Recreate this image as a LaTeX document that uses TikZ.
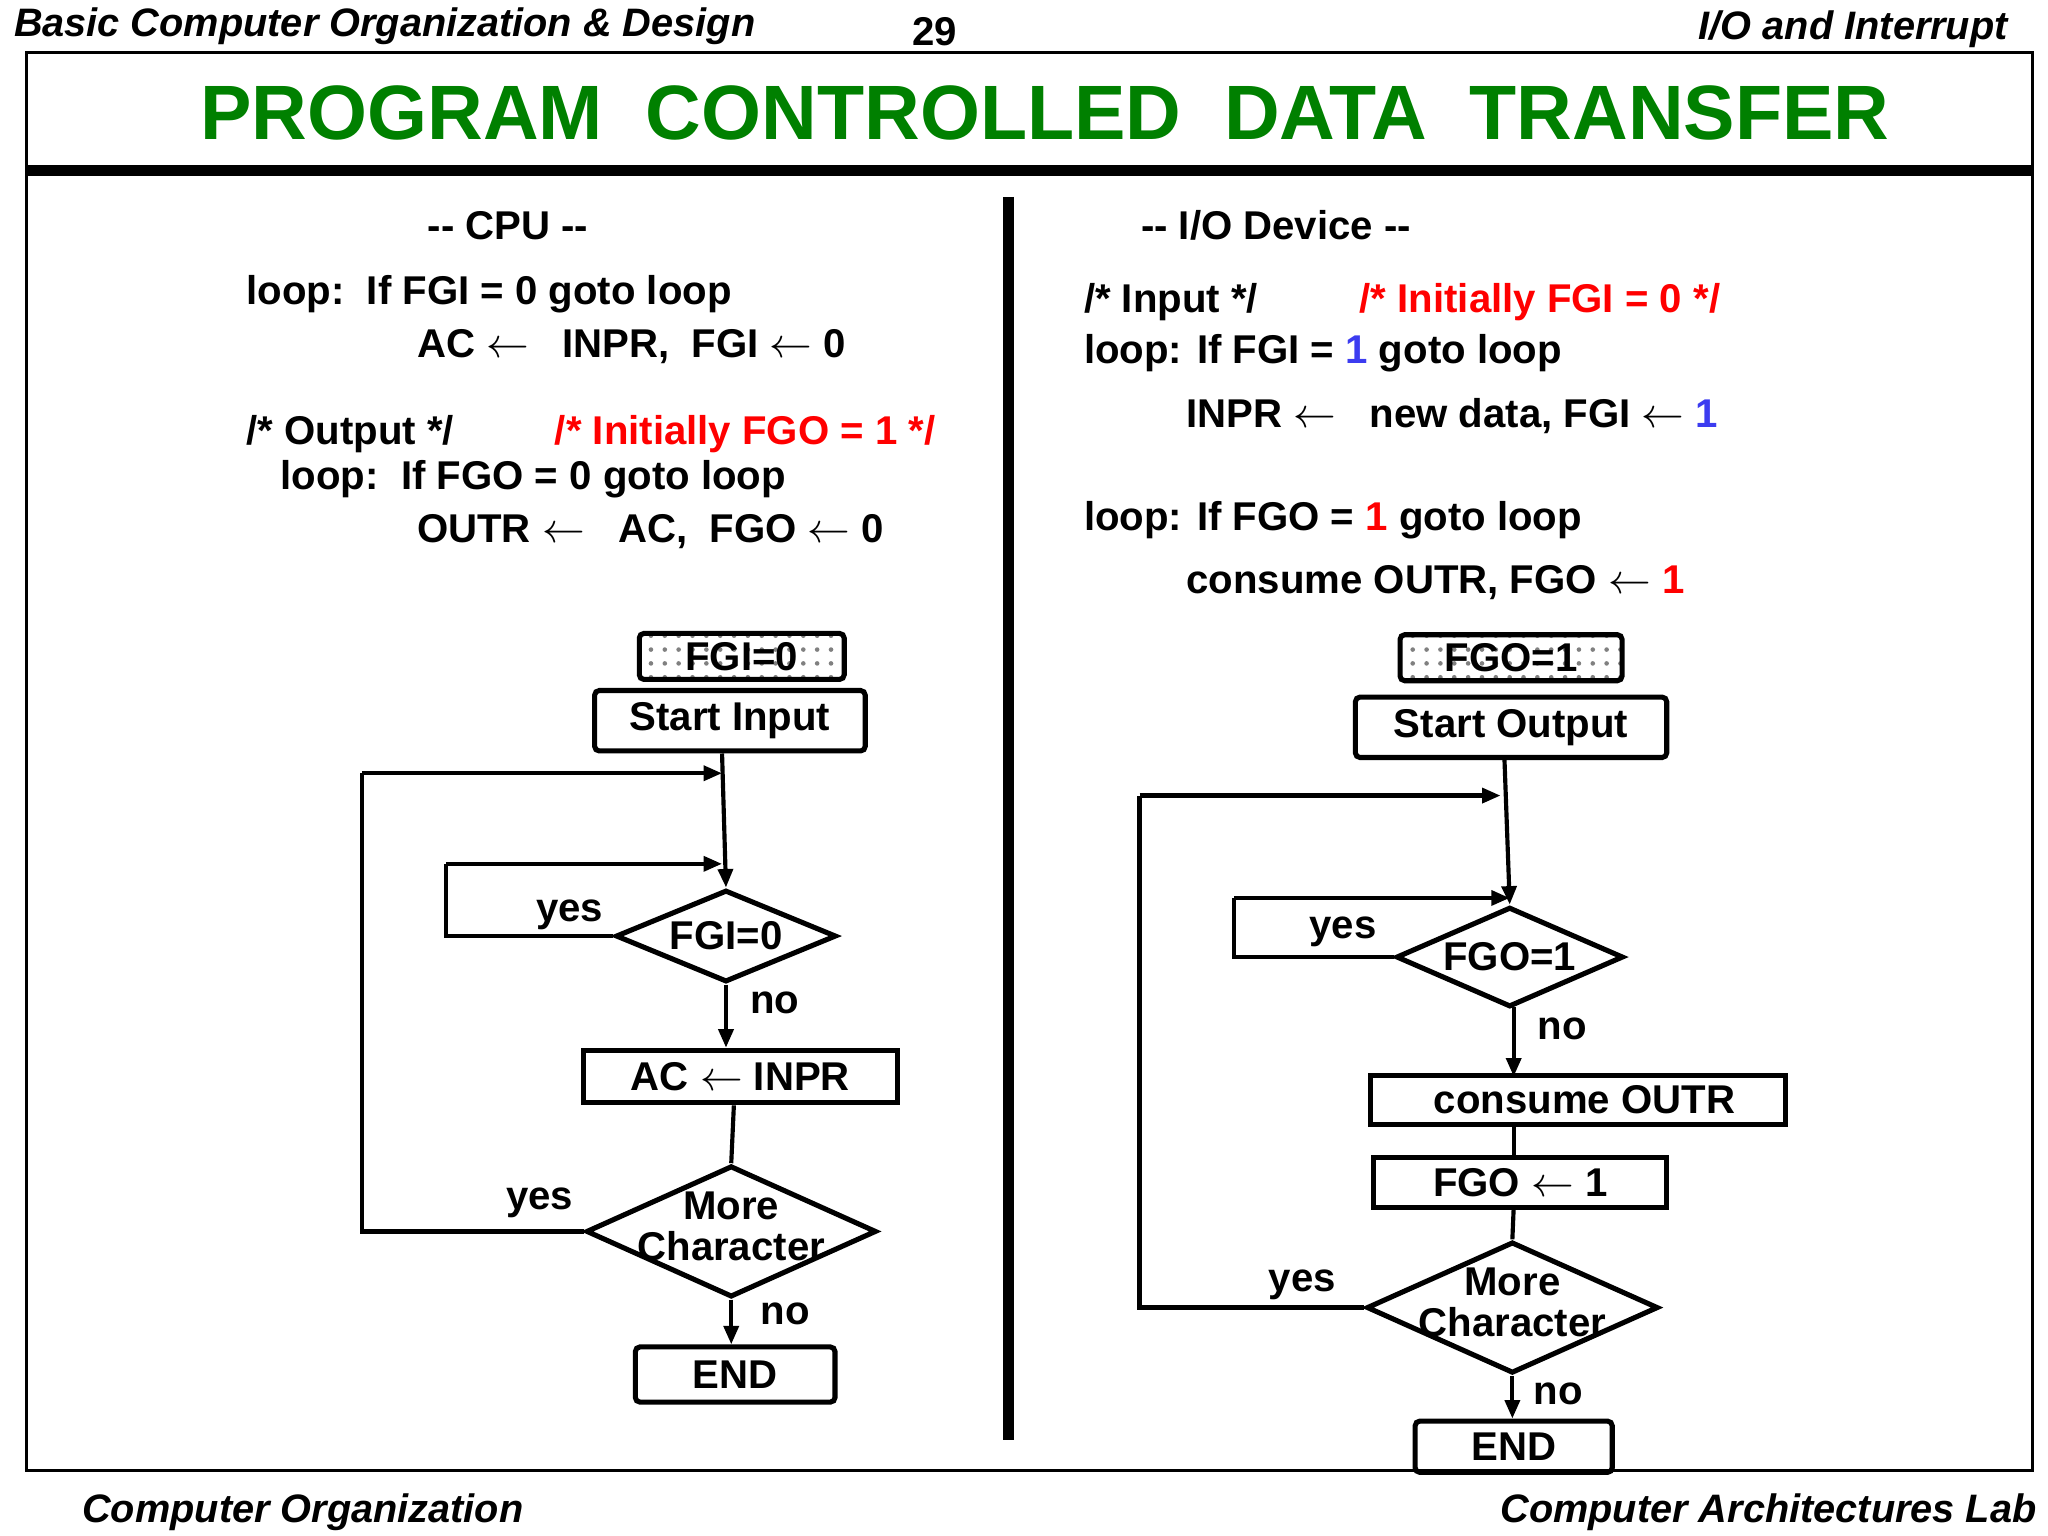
\documentclass[tikz,border=0pt]{standalone}
\usepackage{fontspec}
\setmainfont{Liberation Sans}
\usetikzlibrary{shapes.geometric,arrows.meta,patterns}
\definecolor{titlegreen}{RGB}{0,128,0}
\definecolor{myblue}{RGB}{60,60,240}
\newcommand{\la}{\ensuremath{\leftarrow}}
\begin{document}
\begin{tikzpicture}[x=0.01cm,y=-0.01cm,
  txt/.style={font=\bfseries\fontsize{8.7}{10}\selectfont, inner sep=0pt},
  hdr/.style={font=\bfseries\itshape\fontsize{8.6}{10}\selectfont, inner sep=0pt},
  box/.style={draw, line width=1.1pt, rounded corners=1pt, font=\bfseries\fontsize{8.7}{10}\selectfont, inner sep=0pt},
  sbox/.style={box, pattern=dots, pattern color=gray},
  dia/.style={draw, diamond, line width=1.1pt, inner sep=0pt},
  con/.style={line width=0.9pt},
  arr/.style={con, -{Triangle[length=4pt,width=3.2pt]}}]
\useasboundingbox (0,0) rectangle (1560,1170);
% frame
\draw[line width=0.6pt] (20,40) rectangle (1548,1120);
\draw[line width=2.5pt] (20,130) -- (1548,130);
\draw[line width=2.3pt] (768,150) -- (768,1097);
% headers
\node[hdr, anchor=west] (h1) at (10,20) {Basic Computer Organization \& Design};
\node[txt] (h2) at (712,24) {29};
\node[hdr, anchor=east] (h3) at (1530,22) {I/O and Interrupt};
\node[hdr, anchor=west] (f1) at (62,1152) {Computer Organization};
\node[hdr, anchor=east] (f2) at (1552,1152) {Computer Architectures Lab};
\node[font=\bfseries\fontsize{16.7}{20}\selectfont, text=titlegreen, inner sep=0pt] (title) at (796,86) {PROGRAM\ \ CONTROLLED\ \ DATA\ \ TRANSFER};
% left text
\node[txt] (c0) at (387,172) {{-}{-} CPU {-}{-}};
\node[txt, anchor=west] (c1) at (187,224) {loop:\ \ If FGI = 0 goto loop};
\node[txt, anchor=west] (c2) at (317,264) {AC \la\ \ \ INPR,\ \ FGI \la\ 0};
\node[txt, anchor=west] (c3) at (187,331) {/* Output */};
\node[txt, anchor=west, text=red] (c4) at (422,331) {/* Initially FGO = 1 */};
\node[txt, anchor=west] (c5) at (213,365) {loop:\ \ If FGO = 0 goto loop};
\node[txt, anchor=west] (c6) at (317,405) {OUTR \la\ \ \ AC,\ \ FGO \la\ 0};
% right text
\node[txt] (r0) at (972,172) {{-}{-} I/O Device {-}{-}};
\node[txt, anchor=west] (r1) at (825,230) {/* Input */};
\node[txt, anchor=west, text=red] (r2) at (1035,230) {/* Initially FGI = 0 */};
\node[txt, anchor=west] (r3) at (825,269) {loop: If FGI = \textcolor{myblue}{1} goto loop};
\node[txt, anchor=west] (r4) at (903,317) {INPR \la\ \ \ new data, FGI \la\ \textcolor{myblue}{1}};
\node[txt, anchor=west] (r5) at (825,396) {loop: If FGO = \textcolor{red}{1} goto loop};
\node[txt, anchor=west] (r6) at (903,444) {consume OUTR, FGO \la\ \textcolor{red}{1}};
% left flowchart
\node[sbox, minimum width=1.56cm, minimum height=0.35cm] (lf) at (565,500) {FGI=0};
\node[box, minimum width=2.06cm, minimum height=0.46cm] (ls) at (556,549) {Start Input};
\node[dia, minimum width=1.68cm, minimum height=0.70cm] (ld1) at (553,713) {};
\node[txt] (ld1t) at (553,713) {FGI=0};
\node[box, rounded corners=0pt, minimum width=2.39cm, minimum height=0.40cm] (lac) at (564,820) {AC \la\ INPR};
\node[dia, minimum width=2.21cm, minimum height=1.00cm] (ld2) at (557,938) {};
\node[txt, align=center] (ld2t) at (557,934) {More\\[-1pt]Character};
\node[box, minimum width=1.52cm, minimum height=0.42cm] (lend) at (560,1047) {END};
\coordinate (la1) at (550,658);
\coordinate (la2) at (550,589);
\draw[arr] (ls.south -| 550,0) -- (ld1.north);
\draw[con] (ld1.west) -- (340,713) -- (340,658);
\draw[arr] (340,658) -- (la1);
\draw[arr] (ld1.south) -- (lac.north -| ld1.south);
\draw[con] (lac.south -| 559,0) -- (ld2.north);
\draw[con] (ld2.west) -- (276,938) -- (276,589);
\draw[arr] (276,589) -- (la2);
\draw[arr] (ld2.south) -- (lend.north -| ld2.south);
\node[txt] (ly1) at (434,697) {yes};
\node[txt] (ln1) at (590,764) {no};
\node[txt] (ly2) at (411,916) {yes};
\node[txt] (ln2) at (598,1001) {no};
% right flowchart
\node[sbox, minimum width=1.69cm, minimum height=0.35cm] (rf) at (1151,501) {FGO=1};
\node[box, minimum width=2.37cm, minimum height=0.46cm] (rs) at (1151,554) {Start Output};
\node[dia, minimum width=1.73cm, minimum height=0.76cm] (rd1) at (1150,729) {};
\node[txt] (rd1t) at (1150,729) {FGO=1};
\node[box, rounded corners=0pt, minimum width=3.16cm, minimum height=0.37cm] (rc) at (1202,838) {\hspace*{0.1cm}consume OUTR};
\node[box, rounded corners=0pt, minimum width=2.23cm, minimum height=0.38cm] (rg) at (1158,901) {FGO \la\ 1};
\node[dia, minimum width=2.22cm, minimum height=1.00cm] (rd2) at (1152,996) {};
\node[txt, align=center] (rd2t) at (1152,992) {More\\[-1pt]Character};
\node[box, minimum width=1.50cm, minimum height=0.39cm] (rend) at (1153,1102) {END};
\coordinate (ra1) at (1150,684);
\coordinate (ra2) at (1143,606);
\draw[arr] (rs.south -| 1146,0) -- (rd1.north);
\draw[con] (rd1.west) -- (940,729) -- (940,684);
\draw[arr] (940,684) -- (ra1);
\draw[arr] (1153,767) -- (1153,820);
\draw[con] (1153,857) -- (1153,882);
\draw[con] (1153,920) -- (rd2.north);
\draw[con] (rd2.west) -- (868,996) -- (868,606);
\draw[arr] (868,606) -- (ra2);
\draw[arr] (rd2.south) -- (rend.north -| rd2.south);
\node[txt] (ry1) at (1023,710) {yes};
\node[txt] (rn1) at (1190,784) {no};
\node[txt] (ry2) at (992,979) {yes};
\node[txt] (rn2) at (1187,1062) {no};
\end{tikzpicture}
\end{document}
